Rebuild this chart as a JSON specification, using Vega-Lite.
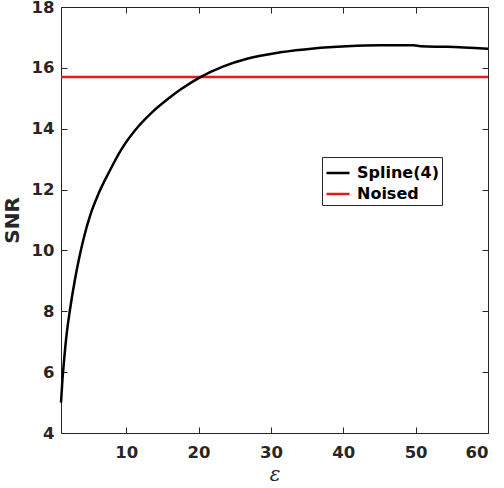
{
  "$schema": "https://vega.github.io/schema/vega-lite/v6.json",
  "autosize": "none",
  "width": 427,
  "height": 426,
  "padding": {"left": 61, "top": 7, "right": 16, "bottom": 55},
  "background": "white",
  "config": {
    "view": {"stroke": null},
    "axis": {
      "domainColor": "#262626",
      "domainWidth": 1,
      "tickColor": "#262626",
      "tickSize": -6,
      "tickWidth": 1,
      "grid": false,
      "labelFont": "DejaVu Sans",
      "labelFontWeight": "bold",
      "labelFontSize": 16.5,
      "labelColor": "#262626",
      "titleFont": "DejaVu Sans",
      "titleColor": "#262626"
    }
  },
  "datasets": {
    "spline": [
      {"eps": 1.0, "snr": 5.0, "series": "Spline(4)"},
      {"eps": 1.2, "snr": 5.75, "series": "Spline(4)"},
      {"eps": 1.41, "snr": 6.35, "series": "Spline(4)"},
      {"eps": 1.6, "snr": 6.85, "series": "Spline(4)"},
      {"eps": 1.87, "snr": 7.42, "series": "Spline(4)"},
      {"eps": 2.24, "snr": 8.05, "series": "Spline(4)"},
      {"eps": 2.94, "snr": 9.06, "series": "Spline(4)"},
      {"eps": 3.63, "snr": 9.88, "series": "Spline(4)"},
      {"eps": 4.2, "snr": 10.46, "series": "Spline(4)"},
      {"eps": 5.0, "snr": 11.13, "series": "Spline(4)"},
      {"eps": 6.16, "snr": 11.85, "series": "Spline(4)"},
      {"eps": 7.54, "snr": 12.53, "series": "Spline(4)"},
      {"eps": 9.39, "snr": 13.34, "series": "Spline(4)"},
      {"eps": 11.24, "snr": 13.95, "series": "Spline(4)"},
      {"eps": 13.54, "snr": 14.53, "series": "Spline(4)"},
      {"eps": 15.84, "snr": 14.99, "series": "Spline(4)"},
      {"eps": 17.46, "snr": 15.28, "series": "Spline(4)"},
      {"eps": 20.2, "snr": 15.69, "series": "Spline(4)"},
      {"eps": 23.45, "snr": 16.05, "series": "Spline(4)"},
      {"eps": 26.7, "snr": 16.3, "series": "Spline(4)"},
      {"eps": 31.3, "snr": 16.51, "series": "Spline(4)"},
      {"eps": 35.9, "snr": 16.64, "series": "Spline(4)"},
      {"eps": 40.5, "snr": 16.71, "series": "Spline(4)"},
      {"eps": 45.1, "snr": 16.74, "series": "Spline(4)"},
      {"eps": 49.7, "snr": 16.74, "series": "Spline(4)"},
      {"eps": 50.7, "snr": 16.71, "series": "Spline(4)"},
      {"eps": 54.3, "snr": 16.69, "series": "Spline(4)"},
      {"eps": 60.0, "snr": 16.63, "series": "Spline(4)"}
    ],
    "noised": [
      {"eps": 1.0, "snr": 15.7, "series": "Noised"},
      {"eps": 60.0, "snr": 15.7, "series": "Noised"}
    ]
  },
  "layer": [
    {
      "data": {"name": "noised"},
      "mark": {"type": "line", "strokeWidth": 2.5, "interpolate": "linear"},
      "encoding": {
        "x": {"field": "eps", "type": "quantitative", "scale": {"domain": [1, 60], "nice": false},
              "axis": {"orient": "top", "labels": false, "title": null, "values": [10, 20, 30, 40, 50, 60]}},
        "y": {"field": "snr", "type": "quantitative", "scale": {"domain": [4, 18], "nice": false},
              "axis": {"orient": "right", "labels": false, "title": null, "values": [4, 6, 8, 10, 12, 14, 16, 18]}},
        "color": {"field": "series", "type": "nominal",
                  "scale": {"domain": ["Spline(4)", "Noised"], "range": ["#000000", "#e41a1c"]},
                  "legend": {
                    "title": null, "orient": "none", "legendX": 261, "legendY": 150,
                    "symbolType": "stroke", "symbolStrokeWidth": 2.5, "symbolSize": 529,
                    "labelFont": "DejaVu Sans", "labelFontWeight": "bold", "labelFontSize": 16,
                    "labelColor": "#000000", "strokeColor": "#262626", "fillColor": "white",
                    "padding": 3, "rowPadding": -3, "labelOffset": 6
                  }}
      }
    },
    {
      "data": {"name": "spline"},
      "mark": {"type": "line", "strokeWidth": 2.5, "interpolate": "monotone"},
      "encoding": {
        "x": {"field": "eps", "type": "quantitative",
              "axis": {"orient": "bottom", "title": "ε", "titleFontStyle": "italic", "titleFontWeight": "normal",
                       "titleFontSize": 20, "titleFont": "DejaVu Serif", "titlePadding": 4, "labelPadding": 17,
                       "values": [10, 20, 30, 40, 50, 60]}},
        "y": {"field": "snr", "type": "quantitative",
              "axis": {"orient": "left", "title": "SNR", "titleFontWeight": "bold", "titleFontSize": 20,
                       "titlePadding": 9, "labelPadding": 13, "values": [4, 6, 8, 10, 12, 14, 16, 18]}},
        "color": {"field": "series", "type": "nominal"}
      }
    }
  ],
  "resolve": {"axis": {"x": "independent", "y": "independent"}}
}
